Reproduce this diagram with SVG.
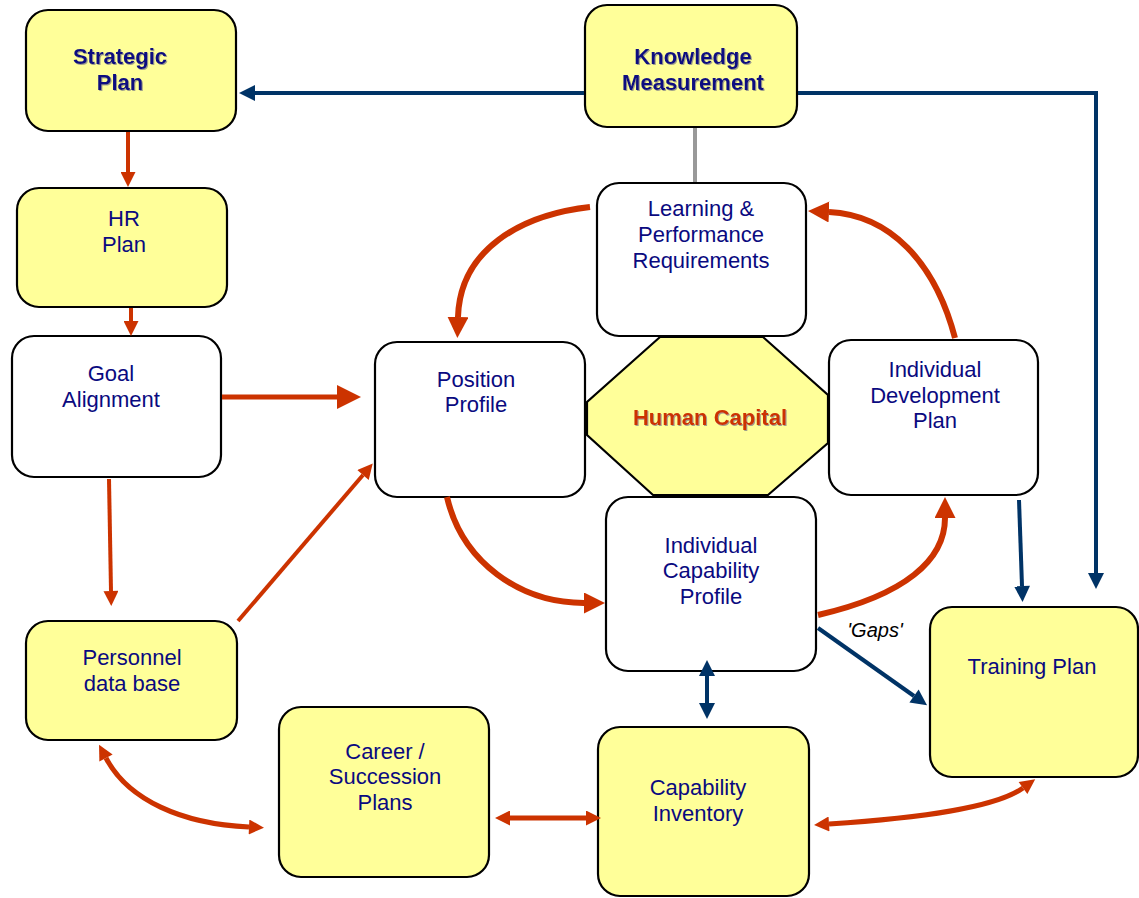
<svg xmlns="http://www.w3.org/2000/svg" width="1139" height="898" viewBox="0 0 1139 898">
<style>
.box{stroke:#000;stroke-width:2.2}
.y{fill:#FFFF99}
.w{fill:#FFFFFF}
.t{font-family:"Liberation Sans",Arial,sans-serif;font-size:22px;fill:#0a0a80;text-anchor:middle}
.b{font-weight:bold;filter:url(#sh)}
.red{fill:none;stroke:#CC3300}
.navy{fill:none;stroke:#003366;stroke-width:4}
</style>
<defs>
<filter id="sh" x="-10%" y="-10%" width="130%" height="140%"><feDropShadow dx="1" dy="1" stdDeviation="0.6" flood-color="#888" flood-opacity="0.8"/></filter>
<marker id="rBig" viewBox="0 0 10 10" refX="0" refY="5" markerUnits="userSpaceOnUse" markerWidth="26" markerHeight="24" orient="auto-start-reverse"><path d="M0,0 L10,5 L0,10 z" fill="#CC3300"/></marker>
<marker id="rMid" viewBox="0 0 10 10" refX="0" refY="5" markerUnits="userSpaceOnUse" markerWidth="21" markerHeight="21" orient="auto-start-reverse"><path d="M0,0 L10,5 L0,10 z" fill="#CC3300"/></marker>
<marker id="rSm" viewBox="0 0 10 10" refX="0" refY="5" markerUnits="userSpaceOnUse" markerWidth="17" markerHeight="15" orient="auto-start-reverse"><path d="M0,0 L10,5 L0,10 z" fill="#CC3300"/></marker>
<marker id="nA" viewBox="0 0 10 10" refX="0" refY="5" markerUnits="userSpaceOnUse" markerWidth="18" markerHeight="16" orient="auto-start-reverse"><path d="M0,0 L10,5 L0,10 z" fill="#003366"/></marker>
</defs>

<g id="human-capital">
<polygon class="box y" points="660,337 763,337 828,395 828,443 768,495 653,495 587,435 587,402" stroke-width="1.8"/>
<text class="t b" x="710" y="425" style="fill:#CC3300">Human Capital</text>
</g>

<g id="strategic-plan">
<rect class="box y" x="26" y="10" width="210" height="121" rx="22"/>
<text class="t b" x="120" y="64">Strategic</text>
<text class="t b" x="120" y="90">Plan</text>
</g>

<g id="knowledge-measurement">
<rect class="box y" x="585" y="5" width="212" height="122" rx="22"/>
<text class="t b" x="693" y="64">Knowledge</text>
<text class="t b" x="693" y="90">Measurement</text>
</g>

<g id="hr-plan">
<rect class="box y" x="17" y="188" width="210" height="119" rx="22"/>
<text class="t" x="124" y="226">HR</text>
<text class="t" x="124" y="252">Plan</text>
</g>

<g id="goal-alignment">
<rect class="box w" x="12" y="336" width="209" height="141" rx="22"/>
<text class="t" x="111" y="381">Goal</text>
<text class="t" x="111" y="407">Alignment</text>
</g>

<g id="learning-performance">
<rect class="box w" x="597" y="183" width="209" height="153" rx="22"/>
<text class="t" x="701" y="216">Learning &amp;</text>
<text class="t" x="701" y="242">Performance</text>
<text class="t" x="701" y="268">Requirements</text>
</g>

<g id="position-profile">
<rect class="box w" x="375" y="342" width="210" height="155" rx="22"/>
<text class="t" x="476" y="387">Position</text>
<text class="t" x="476" y="412">Profile</text>
</g>

<g id="individual-development-plan">
<rect class="box w" x="829" y="340" width="209" height="155" rx="22"/>
<text class="t" x="935" y="377">Individual</text>
<text class="t" x="935" y="403">Development</text>
<text class="t" x="935" y="428">Plan</text>
</g>

<g id="individual-capability-profile">
<rect class="box w" x="606" y="497" width="210" height="174" rx="22"/>
<text class="t" x="711" y="553">Individual</text>
<text class="t" x="711" y="578">Capability</text>
<text class="t" x="711" y="604">Profile</text>
</g>

<g id="training-plan">
<rect class="box y" x="930" y="607" width="208" height="170" rx="22"/>
<text class="t" x="1032" y="674">Training Plan</text>
</g>

<g id="personnel-database">
<rect class="box y" x="26" y="621" width="211" height="119" rx="22"/>
<text class="t" x="132" y="665">Personnel</text>
<text class="t" x="132" y="691">data base</text>
</g>

<g id="career-succession">
<rect class="box y" x="279" y="707" width="210" height="170" rx="22"/>
<text class="t" x="385" y="759">Career /</text>
<text class="t" x="385" y="784">Succession</text>
<text class="t" x="385" y="810">Plans</text>
</g>

<g id="capability-inventory">
<rect class="box y" x="598" y="727" width="211" height="169" rx="22"/>
<text class="t" x="698" y="795">Capability</text>
<text class="t" x="698" y="821">Inventory</text>
</g>

<g id="connectors">
<line class="red" x1="128" y1="132" x2="128" y2="172" stroke-width="4" marker-end="url(#rSm)"/>
<line class="red" x1="131" y1="308" x2="131" y2="321" stroke-width="4" marker-end="url(#rSm)"/>
<line class="red" x1="222" y1="397" x2="337" y2="397" stroke-width="5" marker-end="url(#rBig)"/>
<line class="red" x1="109" y1="479" x2="111" y2="591" stroke-width="4" marker-end="url(#rSm)"/>
<line class="red" x1="238" y1="621" x2="363" y2="475" stroke-width="4" marker-end="url(#rSm)"/>
<path class="red" d="M590,207 C520,215 460,250 458,317" stroke-width="6" marker-end="url(#rMid)"/>
<path class="red" d="M955,338 C935,262 890,215 829,212" stroke-width="6" marker-end="url(#rMid)"/>
<path class="red" d="M447,497 C462,562 520,603 584,603" stroke-width="6" marker-end="url(#rMid)"/>
<path class="red" d="M818,615 C905,595 945,560 945,518" stroke-width="6" marker-end="url(#rMid)"/>
<path class="red" d="M106,758 C128,800 182,824 249,827" stroke-width="5" marker-start="url(#rSm)" marker-end="url(#rSm)"/>
<line class="red" x1="510" y1="818" x2="586" y2="818" stroke-width="5" marker-start="url(#rSm)" marker-end="url(#rSm)"/>
<path class="red" d="M829,824 C920,818 995,808 1023,788" stroke-width="5" marker-start="url(#rSm)" marker-end="url(#rSm)"/>
<path class="navy" d="M584,93 L255,93" marker-end="url(#nA)"/>
<path class="navy" d="M798,93 L1096,93 L1096,573" marker-end="url(#nA)"/>
<line x1="695" y1="128" x2="695" y2="182" stroke="#999999" stroke-width="4"/>
<line class="navy" x1="1019" y1="500" x2="1022" y2="586" marker-end="url(#nA)"/>
<line class="navy" x1="818" y1="628" x2="914" y2="696" marker-end="url(#nA)"/>
<line class="navy" x1="707" y1="676" x2="707" y2="703" marker-start="url(#nA)" marker-end="url(#nA)"/>
<text x="875" y="637" font-family="Liberation Sans,Arial,sans-serif" font-size="20" font-style="italic" fill="#000" text-anchor="middle">'Gaps'</text>
</g>
</svg>
